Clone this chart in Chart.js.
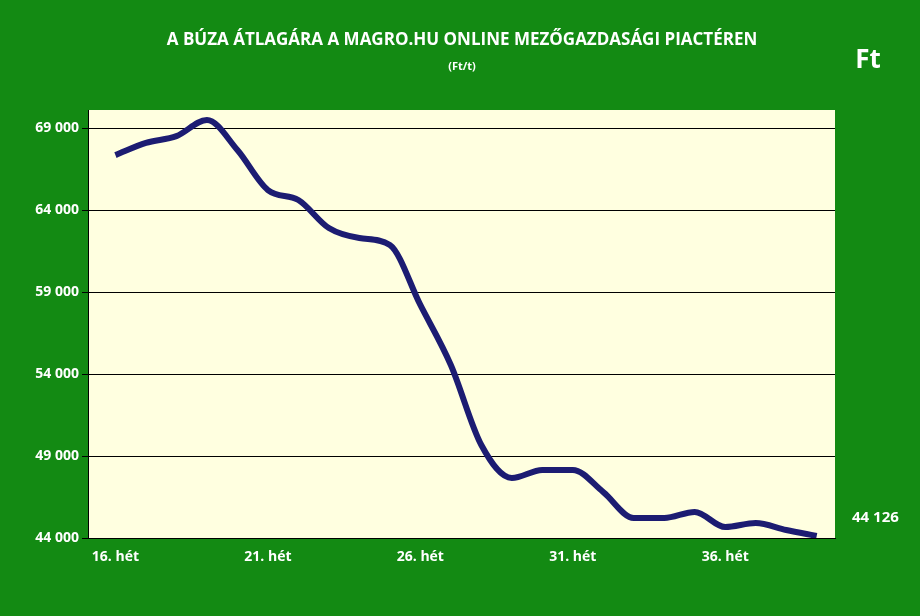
<!DOCTYPE html>
<html><head><meta charset="utf-8">
<script src="https://cdn.jsdelivr.net/npm/chart.js@4"></script>
<style>body{margin:0;background:#fff}#wrap{width:920px;height:616px}</style>
</head><body><div id="wrap"><canvas id="c" width="920" height="616"></canvas></div>
<script>
// Heti átlagár (Ft/t)
const weeks = [16,17,18,19,20,21,22,23,24,25,26,27,28,29,30,31,32,33,34,35,36,37,38,39];
const prices = [67350,68090,68510,69490,67660,65220,64610,62900,62290,61870,58210,54550,
                49670,47660,48150,48150,46800,45220,45220,45590,44670,44910,44490,44126];
const yTicks = [44000,49000,54000,59000,64000,69000];
const xTicks = [16,21,26,31,36];

const fmt = v => String(v).replace(/\B(?=(\d{3})+(?!\d))/g, ' ');

const frame = {
    id: 'frame',
    beforeDraw(chart) {
        const c = chart.ctx, a = chart.chartArea;
        c.save();
        c.fillStyle = '#138a13';
        c.fillRect(0, 0, 920, 616);
        c.fillStyle = '#ffffe0';
        c.fillRect(a.left, a.top, a.right - a.left, a.bottom - a.top);
        c.restore();
    },
    afterDraw(chart) {
        const c = chart.ctx;
        c.save();
        c.fillStyle = '#fff';
        c.textAlign = 'center';
        c.font = 'bold 17px "Open Sans", sans-serif';
        c.fillText('A BÚZA ÁTLAGÁRA A MAGRO.HU ONLINE MEZŐGAZDASÁGI PIACTÉREN', 462, 45);
        c.font = 'bold 11px "Open Sans", sans-serif';
        c.fillText('(Ft/t)', 462, 70);
        c.font = 'bold 26px "Open Sans", sans-serif';
        c.fillText('Ft', 868, 68);
        c.font = 'bold 15px "Open Sans", sans-serif';
        const last = chart.getDatasetMeta(0).data[prices.length - 1];
        c.textAlign = 'left';
        c.fillText(fmt(prices[prices.length - 1]), 852, last.y - 14);
        c.restore();
    }
};

new Chart(document.getElementById('c'), {
    type: 'line',
    data: {
        datasets: [{
            data: weeks.map((w, i) => ({x: w, y: prices[i]})),
            borderColor: '#1c1c72',
            borderWidth: 6,
            pointRadius: 0,
            tension: 0.4,
            cubicInterpolationMode: 'monotone'
        }]
    },
    options: {
        responsive: false,
        animation: false,
        layout: {padding: {top: 110, right: 85, left: 8, bottom: 46}},
        plugins: {legend: {display: false}, tooltip: {enabled: false}},
        scales: {
            x: {
                type: 'linear', min: 15.1, max: 39.6,
                afterBuildTicks: s => { s.ticks = xTicks.map(v => ({value: v})); },
                afterFit: s => { s.height = 32; },
                grid: {display: false},
                border: {color: '#000'},
                ticks: {color: '#fff', font: {weight: 'bold', size: 14, family: 'Open Sans'},
                        callback: v => v + '. hét'}
            },
            y: {
                min: 44000, max: 70100,
                afterBuildTicks: s => { s.ticks = yTicks.map(v => ({value: v})); },
                afterFit: s => { s.width = 80; },
                grid: {color: '#000', lineWidth: 1, drawTicks: true, tickLength: 6},
                border: {color: '#000'},
                ticks: {color: '#fff', font: {weight: 'bold', size: 14, family: 'Open Sans'},
                        callback: v => fmt(v)}
            }
        }
    },
    plugins: [frame]
});
</script></body></html>
